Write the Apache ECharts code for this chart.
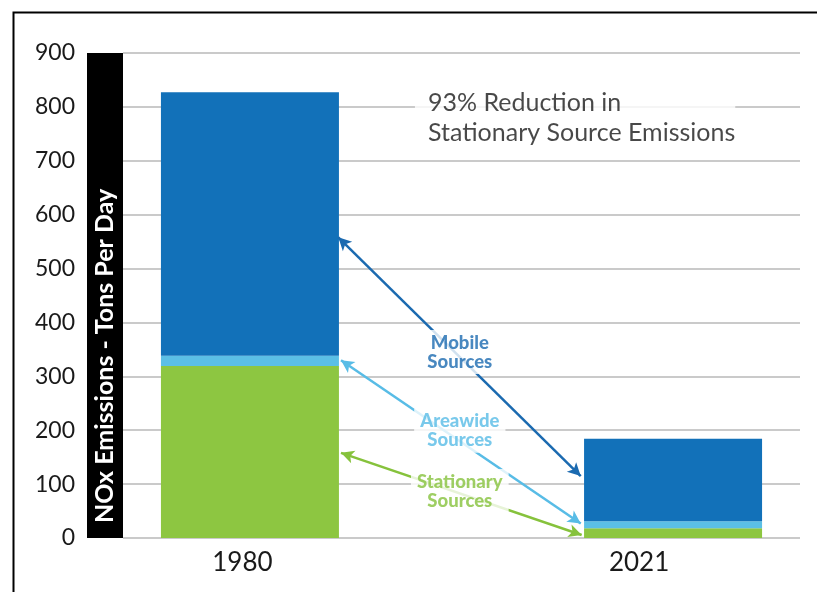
<!DOCTYPE html>
<html>
<head>
<meta charset="utf-8">
<script src="https://cdn.jsdelivr.net/npm/echarts@6/dist/echarts.min.js"></script>
<style>
html,body{margin:0;padding:0;background:#fff;}
#chart{width:817px;height:592px;}
</style>
</head>
<body>
<div id="chart"></div>
<script>
// ---- Data ----
var categories = ['', '1980', '', '', '', '', '2021', ''];
var stationary = ['-', 319, '-', '-', '-', '-', 18, '-'];
var areawide   = ['-', 19,  '-', '-', '-', '-', 13, '-'];
var mobile     = ['-', 489, '-', '-', '-', '-', 153, '-'];
var yTicks = [0, 100, 200, 300, 400, 500, 600, 700, 800, 900];
var yAxisTitle = 'NOx Emissions - Tons Per Day';
var noteText = '93% Reduction in\nStationary Source Emissions';
var annotationTexts = ['Mobile\nSources', 'Areawide\nSources', 'Stationary\nSources'];
// annotation anchor positions (x on 0..8 slot scale, y in tons/day)
var annotationPos = [[3.98, 345], [3.98, 199], [3.98, 87]];
var arrowLines = [
  [[2.544, 558], [5.409, 115]],
  [[2.576, 330], [5.409, 27]],
  [[2.576, 158], [5.42, 5.6]]
];
var notePos = [3.45, 780];

var colors = { mobile: '#1271b9', areawide: '#5bbfe5', stationary: '#8dc641' };
var annColors = ['#1b6ab0', '#58bce6', '#86c23c'];
var FONT = 'Lato';

var chart = echarts.init(document.getElementById('chart'), null, {renderer: 'canvas'});

var option = {
  animation: false,
  backgroundColor: '#fff',
  textStyle: { fontFamily: FONT },
  graphic: [{
    type: 'rect', left: 11, top: 10, z: 100,
    shape: { width: 900, height: 700 },
    style: { fill: 'none', stroke: '#000', lineWidth: 2 }
  }],
  grid: { left: 123, right: 17, top: 53, bottom: 54, containLabel: false, outerBoundsMode: 'none' },
  xAxis: [{
    type: 'category',
    data: categories,
    axisLine: { show: false },
    axisTick: { show: false },
    axisLabel: {
      interval: 0,
      margin: 12,
      formatter: function (v) {
        if (v === '1980') return '{a|' + v + '}';
        if (v === '2021') return '{b|' + v + '}';
        return '';
      },
      rich: {
        a: { fontFamily: FONT, fontSize: 26, color: '#1a1a1a', padding: [0, 15, 0, 0] },
        b: { fontFamily: FONT, fontSize: 26, color: '#1a1a1a', padding: [0, 68, 0, 0] }
      }
    },
    splitLine: { show: false }
  }, {
    type: 'value', min: 0, max: 8, show: false
  }],
  yAxis: {
    type: 'value',
    min: yTicks[0], max: yTicks[yTicks.length - 1], interval: yTicks[1] - yTicks[0],
    axisLine: { show: false },
    axisTick: { show: false },
    axisLabel: { margin: 48, fontSize: 23, color: '#1a1a1a', fontFamily: FONT },
    splitLine: { lineStyle: { color: '#b8b8b8', width: 1.5 } },
    name: '{t|' + yAxisTitle + '}',
    nameLocation: 'middle',
    nameGap: 0,
    nameMoveOverlap: false,
    nameTextStyle: {
      backgroundColor: '#000',
      padding: [0, 0, 0, 15],
      rich: {
        t: { width: 470, height: 36, lineHeight: 36, align: 'left', color: '#fff', fontSize: 25, fontWeight: 'bold', fontFamily: FONT }
      }
    }
  },
  series: [
    { name: 'Stationary Sources', type: 'bar', stack: 'total', barWidth: 178, data: stationary,
      itemStyle: { color: colors.stationary } },
    { name: 'Areawide Sources', type: 'bar', stack: 'total', barWidth: 178, data: areawide,
      itemStyle: { color: colors.areawide } },
    { name: 'Mobile Sources', type: 'bar', stack: 'total', barWidth: 178, data: mobile,
      itemStyle: { color: colors.mobile } },
    {
      type: 'scatter', xAxisIndex: 1, z: 5, symbolSize: 0, silent: true,
      data: annotationTexts.map(function (t, i) {
        return {
          value: annotationPos[i],
          label: {
            show: true, position: 'inside', formatter: t,
            color: annColors[i], fontSize: 18.5, fontWeight: 900, fontFamily: FONT,
            lineHeight: 19, align: 'center', backgroundColor: '#fff', padding: [3, 6]
          }
        };
      }).concat([{
        value: notePos,
        label: {
          show: true, position: 'right', distance: 0, formatter: noteText,
          color: '#1a1a1a', fontSize: 25, fontFamily: FONT, lineHeight: 30, align: 'left',
          backgroundColor: '#fff', padding: [2, 0, 2, 13]
        }
      }]),
      markLine: {
        silent: true,
        z: 3,
        symbol: ['arrow', 'arrow'],
        symbolSize: [10, 13],
        label: { show: false },
        data: arrowLines.map(function (l, i) {
          return [
            { coord: l[0], lineStyle: { color: annColors[i], width: 2.5, type: 'solid' }, itemStyle: { color: annColors[i] } },
            { coord: l[1] }
          ];
        })
      }
    }
  ]
};
chart.setOption(option);
</script>
</body>
</html>
